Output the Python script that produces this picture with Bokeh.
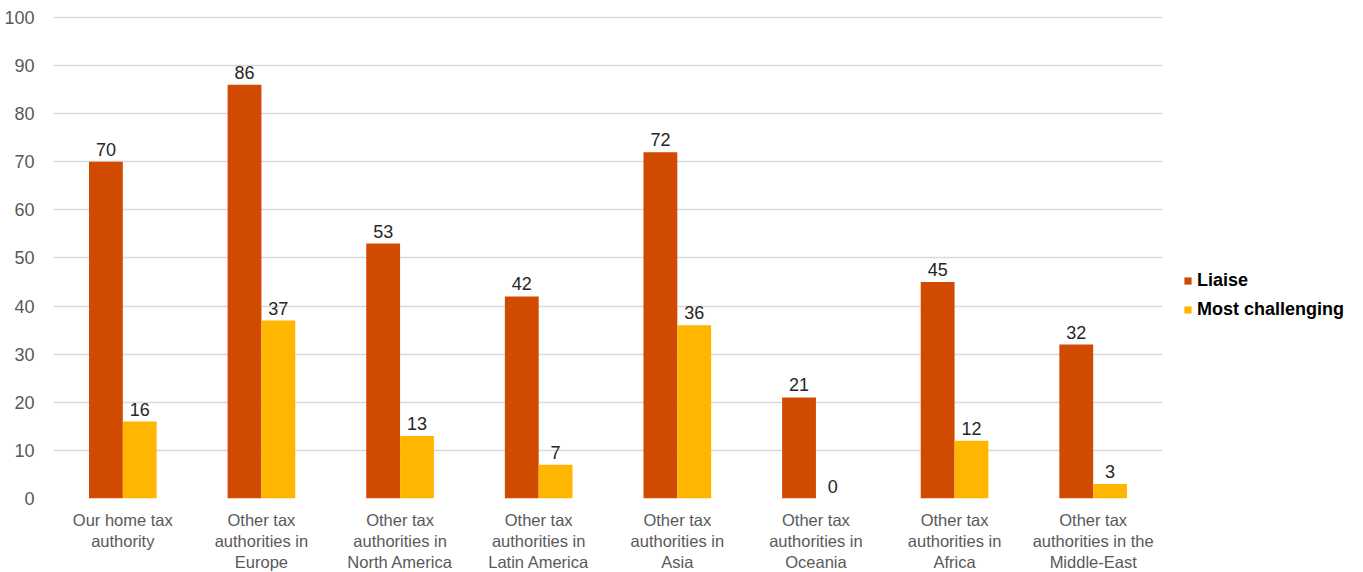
from bokeh.plotting import figure
from bokeh.models import ColumnDataSource, FixedTicker, Legend, LegendItem, LabelSet
from bokeh.core.properties import value
from bokeh.embed import file_html
from bokeh.resources import INLINE

categories = [
    "Our home tax\nauthority",
    "Other tax\nauthorities in\nEurope",
    "Other tax\nauthorities in\nNorth America",
    "Other tax\nauthorities in\nLatin America",
    "Other tax\nauthorities in\nAsia",
    "Other tax\nauthorities in\nOceania",
    "Other tax\nauthorities in\nAfrica",
    "Other tax\nauthorities in the\nMiddle-East",
]
liaise = [70, 86, 53, 42, 72, 21, 45, 32]
most_challenging = [16, 37, 13, 7, 36, 0, 12, 3]
y_ticks = list(range(0, 101, 10))

FONT = "Liberation Sans"
C_LIAISE = "#D04A02"
C_MOST = "#FFB600"

idx = list(range(len(categories)))
off = 0.122
bw = 0.244

src_l = ColumnDataSource(dict(x=[i - off for i in idx], top=liaise,
                              lab=[str(v) for v in liaise]))
src_m = ColumnDataSource(dict(x=[i + off for i in idx], top=most_challenging,
                              lab=[str(v) for v in most_challenging]))

p = figure(frame_width=1109, frame_height=482,
           x_range=(-0.5, len(categories) - 0.5), y_range=(0, 100.2),
           output_backend="svg", toolbar_location=None,
           min_border_left=53, min_border_top=16, min_border_bottom=74,
           min_border_right=0)
p.outline_line_color = None
p.background_fill_color = "white"
p.border_fill_color = "white"

r1 = p.vbar(x="x", top="top", width=bw, source=src_l, fill_color=C_LIAISE, line_color=None)
r2 = p.vbar(x="x", top="top", width=bw, source=src_m, fill_color=C_MOST, line_color=None)

for src in (src_l, src_m):
    p.add_layout(LabelSet(x="x", y="top", text="lab", source=src,
                          text_align="center", text_baseline="bottom", y_offset=6,
                          text_font=value(FONT), text_font_size="18px",
                          text_color="#262626"))

# y axis
p.yaxis.ticker = FixedTicker(ticks=y_ticks)
p.yaxis.axis_line_color = None
p.yaxis.major_tick_line_color = None
p.yaxis.minor_tick_line_color = None
p.yaxis.major_label_text_font = FONT
p.yaxis.major_label_text_font_size = "18px"
p.yaxis.major_label_text_color = "#595959"
p.yaxis.major_label_standoff = 13

# x axis with category labels
p.xaxis.ticker = FixedTicker(ticks=idx)
p.xaxis.major_label_overrides = {i: c for i, c in zip(idx, categories)}
p.xaxis.axis_line_color = None
p.xaxis.major_tick_line_color = None
p.xaxis.minor_tick_line_color = None
p.xaxis.major_label_text_font = FONT
p.xaxis.major_label_text_font_size = "16.5px"
p.xaxis.major_label_text_color = "#595959"
p.xaxis.major_label_text_line_height = 1.17
p.xaxis.major_label_standoff = 6

p.xgrid.grid_line_color = None
p.ygrid.ticker = FixedTicker(ticks=y_ticks)
p.ygrid.grid_line_color = "#D9D9D9"
p.ygrid.grid_line_width = 1.3

legend = Legend(items=[LegendItem(label="Liaise", renderers=[r1]),
                       LegendItem(label="Most challenging", renderers=[r2])],
                location=(21, 178), orientation="vertical")
legend.label_text_font = FONT
legend.label_text_font_size = "18px"
legend.label_text_font_style = "bold"
legend.label_text_color = "#000000"
legend.glyph_width = 9
legend.glyph_height = 9
legend.label_standoff = 5
legend.spacing = 8
legend.padding = 4
legend.margin = 0
legend.border_line_color = None
legend.background_fill_alpha = 0
p.add_layout(legend, "right")

open("out.html", "w").write(file_html(p, INLINE))
